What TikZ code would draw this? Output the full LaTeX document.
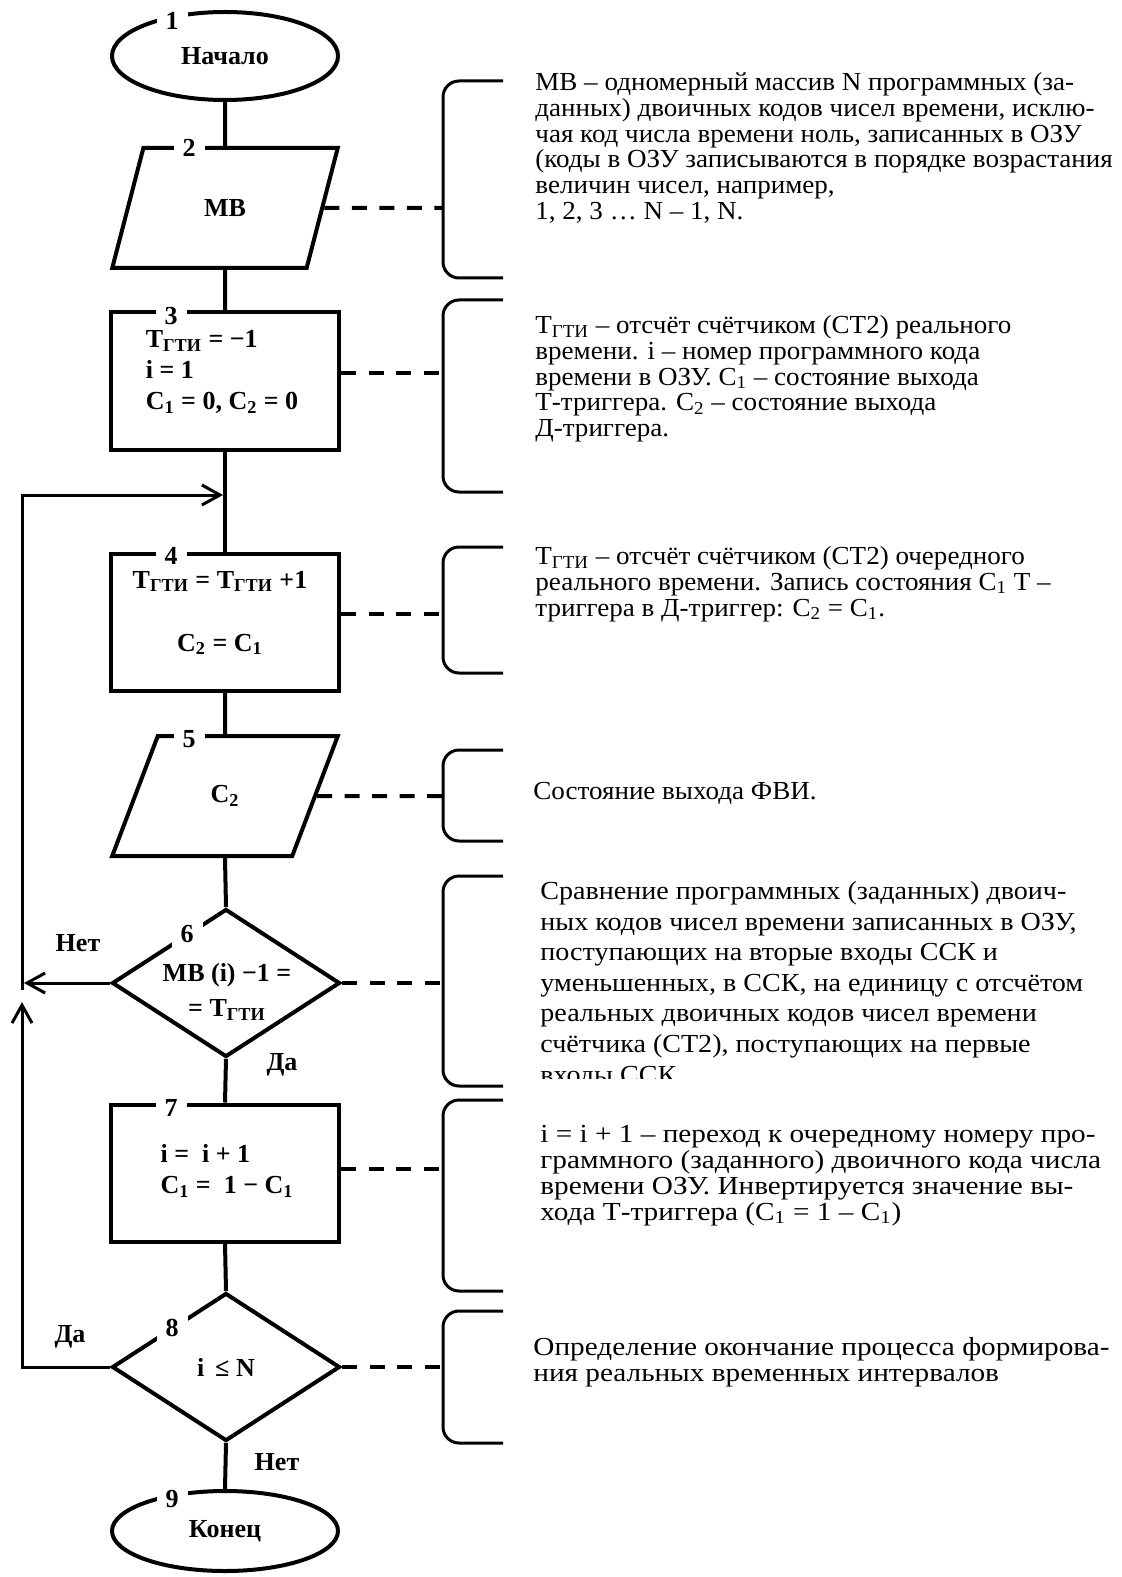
\documentclass[tikz,border=0pt]{standalone}
\usepackage{fontspec}
\setmainfont{Liberation Serif}
\newfontfamily\notefam[FakeStretch=1.04]{Liberation Serif}
\newfontfamily\midfam[FakeStretch=1.08]{Liberation Serif}
\newfontfamily\widefam[FakeStretch=1.125]{Liberation Serif}
\usetikzlibrary{shapes.geometric,arrows.meta,calc}
\newcommand{\flowfont}{\fontsize{13}{15.5}\selectfont\bfseries}
\newcommand{\notefont}{\notefam\fontsize{13}{12.9}\selectfont}
\newcommand{\loosefont}{\midfam\fontsize{13}{15.3}\selectfont}
\newcommand{\widefont}{\widefam\fontsize{13}{12.9}\selectfont}
\newcommand{\Tg}{T\textsubscript{ГТИ}}
\newcommand{\Cn}[1]{C\textsubscript{#1}}
\tikzset{
term/.style={ellipse,draw,line width=2pt,minimum width=113pt,minimum height=44pt,inner sep=0pt,font=\flowfont},
io/.style={trapezium,trapezium left angle=65,trapezium right angle=115,trapezium stretches,
draw,line width=2pt,minimum width=113pt,minimum height=60pt,inner sep=0pt,font=\flowfont},
proc/.style={rectangle,draw,line width=2pt,minimum width=114pt,minimum height=68.5pt,inner sep=0pt},
cond/.style={diamond,aspect=1.54,draw,line width=2pt,minimum width=114pt,minimum height=74pt,
inner sep=0pt,font=\flowfont,align=center},
flowtxt/.style={font=\flowfont,inner sep=0pt},
numlbl/.style={fill=white,inner sep=0pt,minimum width=15.5pt,minimum height=14pt,font=\flowfont},
branch/.style={font=\flowfont,inner sep=0pt},
flowline/.style={line width=2pt},
loopline/.style={line width=1.5pt,-{Straight Barb[length=9pt,width=10pt]},shorten >=1pt},
noteline/.style={line width=2pt,dash pattern=on 7.5pt off 6.25pt},
brace/.style={line width=1.5pt,rounded corners=8pt},
note/.style={font=\notefont,align=left,anchor=north west,inner sep=0pt}
}

\begin{document}
\begin{tikzpicture}[x=0.5pt,y=-0.5pt]
\useasboundingbox (0,0) rectangle (1122,1577);

% flowchart blocks
\node[term] (start) at (225,56) {Начало};
\node[io] (mv) at (225,208) {МВ};
\node[proc] (init) at (225,381) {};
\node[flowtxt,align=left] (inittxt) at (222,372) {\Tg{} = −1\\i = 1\\\Cn1 = 0, \Cn2 = 0};
\node[proc] (tick) at (225,622) {};
\node[flowtxt,align=center] (ticktxt) at (220,613) {\Tg{} = \Tg{} +1\\[16pt]\Cn2 = \Cn1};
\node[io] (out) at (225,796) {\Cn2};
\node[cond] (cmp) at (226,983) {};
\node[flowtxt,align=center] (cmptxt) at (227,992) {МВ (i) −1 =\\[2pt]= \Tg};
\node[proc] (next) at (225,1173) {};
\node[flowtxt,align=left] (nexttxt) at (227,1171) {i = \ i + 1\\\Cn1 = \ 1 − \Cn1};
\node[cond] (last) at (226,1367) {i \,≤ N};
\node[term,minimum height=40pt] (stop) at (225,1531) {Конец};

% main stem
\coordinate (merge) at (225,495);
\draw[flowline] (start.south) -- (mv.north);
\draw[flowline] (mv.south) -- (init.north);
\draw[flowline] (init.south) -- (tick.north);
\draw[flowline] (tick.south) -- (out.north);
\draw[flowline] (out.south) -- (cmp.north);
\draw[flowline] (cmp.south) -- (next.north);
\draw[flowline] (next.south) -- (last.north);
\draw[flowline] (last.south) -- (stop.north);

% loop back
\coordinate (jn) at (22,990);
\coordinate (yes8) at (22,1000);
\draw[loopline] (cmp.west) -- (cmp.west -| jn);
\draw[loopline] (last.west) -| (yes8);
\draw[loopline] (jn) |- (merge);

\node[branch] (no6) at (78,943) {Нет};
\node[branch] (yes6) at (282,1065) {Да};
\node[branch] (yes8lbl) at (70,1337) {Да};
\node[branch] (no8) at (277,1462) {Нет};

% block numbers
\node[numlbl] (n1) at (172,21) {1};
\node[numlbl] (n2) at (189,148) {2};
\node[numlbl] (n3) at (171,316) {3};
\node[numlbl] (n4) at (171,556) {4};
\node[numlbl] (n5) at (189,739) {5};
\node[numlbl] (n6) at (187,934) {6};
\node[numlbl] (n7) at (171,1108) {7};
\node[numlbl] (n8) at (172,1328) {8};
\node[numlbl] (n9) at (172,1499) {9};

% comment brackets
\coordinate (c2) at (442,208);
\coordinate (c3) at (442,373);
\coordinate (c4) at (442,614);
\coordinate (c5) at (442,796);
\coordinate (c6) at (442,983);
\coordinate (c7) at (442,1169);
\coordinate (c8) at (442,1367);
\draw[brace] (503,81) -- (443,81) -- (443,278) -- (503,278);
\draw[brace] (503,300) -- (443,300) -- (443,492) -- (503,492);
\draw[brace] (503,547) -- (443,547) -- (443,673) -- (503,673);
\draw[brace] (503,750) -- (443,750) -- (443,841) -- (503,841);
\draw[brace] (503,876) -- (443,876) -- (443,1086) -- (503,1086);
\draw[brace] (503,1100) -- (443,1100) -- (443,1291) -- (503,1291);
\draw[brace] (503,1311) -- (443,1311) -- (443,1443) -- (503,1443);

\draw[noteline] (mv.east) -- (c2);
\draw[noteline] (init.east |- c3) -- (c3);
\draw[noteline] (tick.east |- c4) -- (c4);
\draw[noteline] (out.east) -- (c5);
\draw[noteline] (cmp.east) -- (c6);
\draw[noteline] (next.east |- c7) -- (c7);
\draw[noteline] (last.east) -- (c8);

% comments
\node[note] (t2) at (535,72) {МВ – одномерный массив N программных (за-\\данных) двоичных кодов чисел времени, исклю-\\чая код числа времени ноль, записанных в ОЗУ\\(коды в ОЗУ записываются в порядке возрастания\\величин чисел, например,\\1, 2, 3 … N – 1, N.};
\node[note] (t3) at (535,315) {\Tg{} – отсчёт счётчиком (СТ2) реального\\времени. i – номер программного кода\\времени в ОЗУ. \Cn1 – состояние выхода\\Т-триггера. \Cn2 – состояние выхода\\Д-триггера.};
\node[note] (t4) at (535,546) {\Tg{} – отсчёт счётчиком (СТ2) очередного\\реального времени. Запись состояния \Cn1 Т –\\триггера в Д-триггер: \Cn2 = \Cn1.};
\node[note] (t5) at (533,782) {Состояние выхода ФВИ.};
\begin{scope}
\clip (520,860) rectangle (1122,1078);
\node[note,font=\loosefont] (t6) at (540,881) {Сравнение программных (заданных) двоич-\\ных кодов чисел времени записанных в ОЗУ,\\поступающих на вторые входы ССК и\\уменьшенных, в ССК, на единицу с отсчётом\\реальных двоичных кодов чисел времени\\счётчика (СТ2), поступающих на первые\\входы ССК};
\end{scope}
\node[note,font=\widefont] (t7) at (540,1125) {i = i + 1 – переход к очередному номеру про-\\граммного (заданного) двоичного кода числа\\времени ОЗУ. Инвертируется значение вы-\\хода Т-триггера (\Cn1 = 1 – \Cn1)};
\node[note,font=\widefont] (t8) at (533,1337) {Определение окончание процесса формирова-\\ния реальных временных интервалов};
\end{tikzpicture}
\end{document}
